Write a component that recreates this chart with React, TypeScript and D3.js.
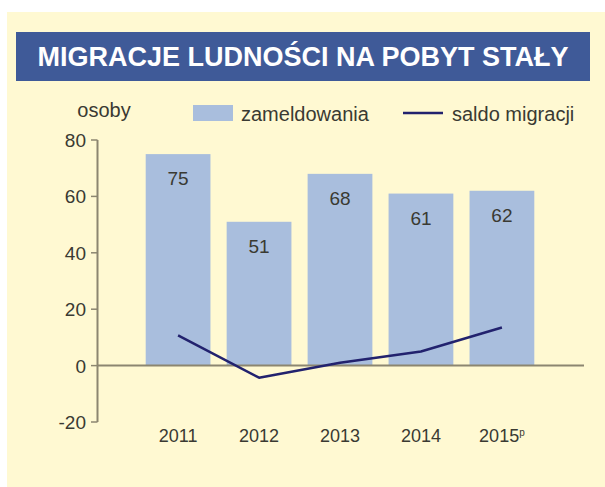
import React from "react";
import * as d3 from "d3";

const years = ["2011", "2012", "2013", "2014", "2015"];
const zameldowania = [75, 51, 68, 61, 62];
const saldo = [10.7, -4.3, 1.0, 5.0, 13.5];
const yTicks = [-20, 0, 20, 40, 60, 80];

const W = 605;
const H = 487;
const BG = "#fff9d2";
const TITLE_BG = "#3f5a98";
const BAR = "#a9bedd";
const LINE = "#22226e";
const AXIS = "#8c8670";
const TEXT = "#3a3a32";
const FONT = "Arial, 'Liberation Sans', sans-serif";

export default function App() {
  const x = d3.scaleBand<string>().domain(years).range([137.6, 542.4]).paddingInner(0.2).paddingOuter(0.1);
  const y = d3.scaleLinear().domain([-20, 80]).range([422, 140]);
  const line = d3
    .line<number>()
    .x((_, i) => (x(years[i]) as number) + x.bandwidth() / 2)
    .y((d) => y(d))
    .curve(d3.curveLinear);

  return (
    <svg width={W} height={H} style={{ position: "absolute", left: 0, top: 0 }}>
      <rect x={0} y={0} width={W} height={H} fill="#ffffff" />
      <rect x={7} y={12} width={W - 7} height={H - 12} fill={BG} />
      <rect x={16} y={32} width={574} height={49} fill={TITLE_BG} />
      <text
        x={303}
        y={66}
        textAnchor="middle"
        fill="#ffffff"
        fontFamily={FONT}
        fontWeight="bold"
        fontSize={27}
      >
        MIGRACJE LUDNOŚCI NA POBYT STAŁY
      </text>

      {/* legend */}
      <text x={104} y={117} textAnchor="middle" fill={TEXT} fontFamily={FONT} fontSize={20}>
        osoby
      </text>
      <rect x={193} y={105} width={40} height={16} fill={BAR} />
      <text x={241} y={121} fill={TEXT} fontFamily={FONT} fontSize={20}>
        zameldowania
      </text>
      <line x1={403} x2={443} y1={113} y2={113} stroke={LINE} strokeWidth={2.5} />
      <text x={452} y={121} fill={TEXT} fontFamily={FONT} fontSize={20}>
        saldo migracji
      </text>

      {/* bars */}
      {zameldowania.map((v, i) => (
        <g key={years[i]}>
          <rect
            x={x(years[i])}
            y={y(v)}
            width={x.bandwidth()}
            height={y(0) - y(v)}
            fill={BAR}
          />
          <text
            x={(x(years[i]) as number) + x.bandwidth() / 2}
            y={y(v) + 31}
            textAnchor="middle"
            fill={TEXT}
            fontFamily={FONT}
            fontSize={19}
          >
            {v}
          </text>
        </g>
      ))}

      {/* y axis */}
      <line x1={97.5} x2={97.5} y1={y(80)} y2={y(-20)} stroke={AXIS} strokeWidth={2} />
      {yTicks.map((t) => (
        <g key={t}>
          <line x1={91} x2={97.5} y1={y(t)} y2={y(t)} stroke={AXIS} strokeWidth={1.5} />
          <text
            x={86}
            y={y(t) + 7}
            textAnchor="end"
            fill={TEXT}
            fontFamily={FONT}
            fontSize={19}
          >
            {t}
          </text>
        </g>
      ))}
      <line x1={97} x2={584} y1={y(0)} y2={y(0)} stroke={AXIS} strokeWidth={2} />

      {/* saldo line */}
      <path d={line(saldo) || ""} fill="none" stroke={LINE} strokeWidth={2.5} strokeLinejoin="round" />

      {/* x labels */}
      {years.map((yr, i) => (
        <text
          key={yr}
          x={(x(yr) as number) + x.bandwidth() / 2}
          y={442}
          textAnchor="middle"
          fill={TEXT}
          fontFamily={FONT}
          fontSize={18}
        >
          {yr}
          {i === years.length - 1 ? (
            <tspan fontSize={10} dy={-6}>
              p
            </tspan>
          ) : null}
        </text>
      ))}
    </svg>
  );
}
